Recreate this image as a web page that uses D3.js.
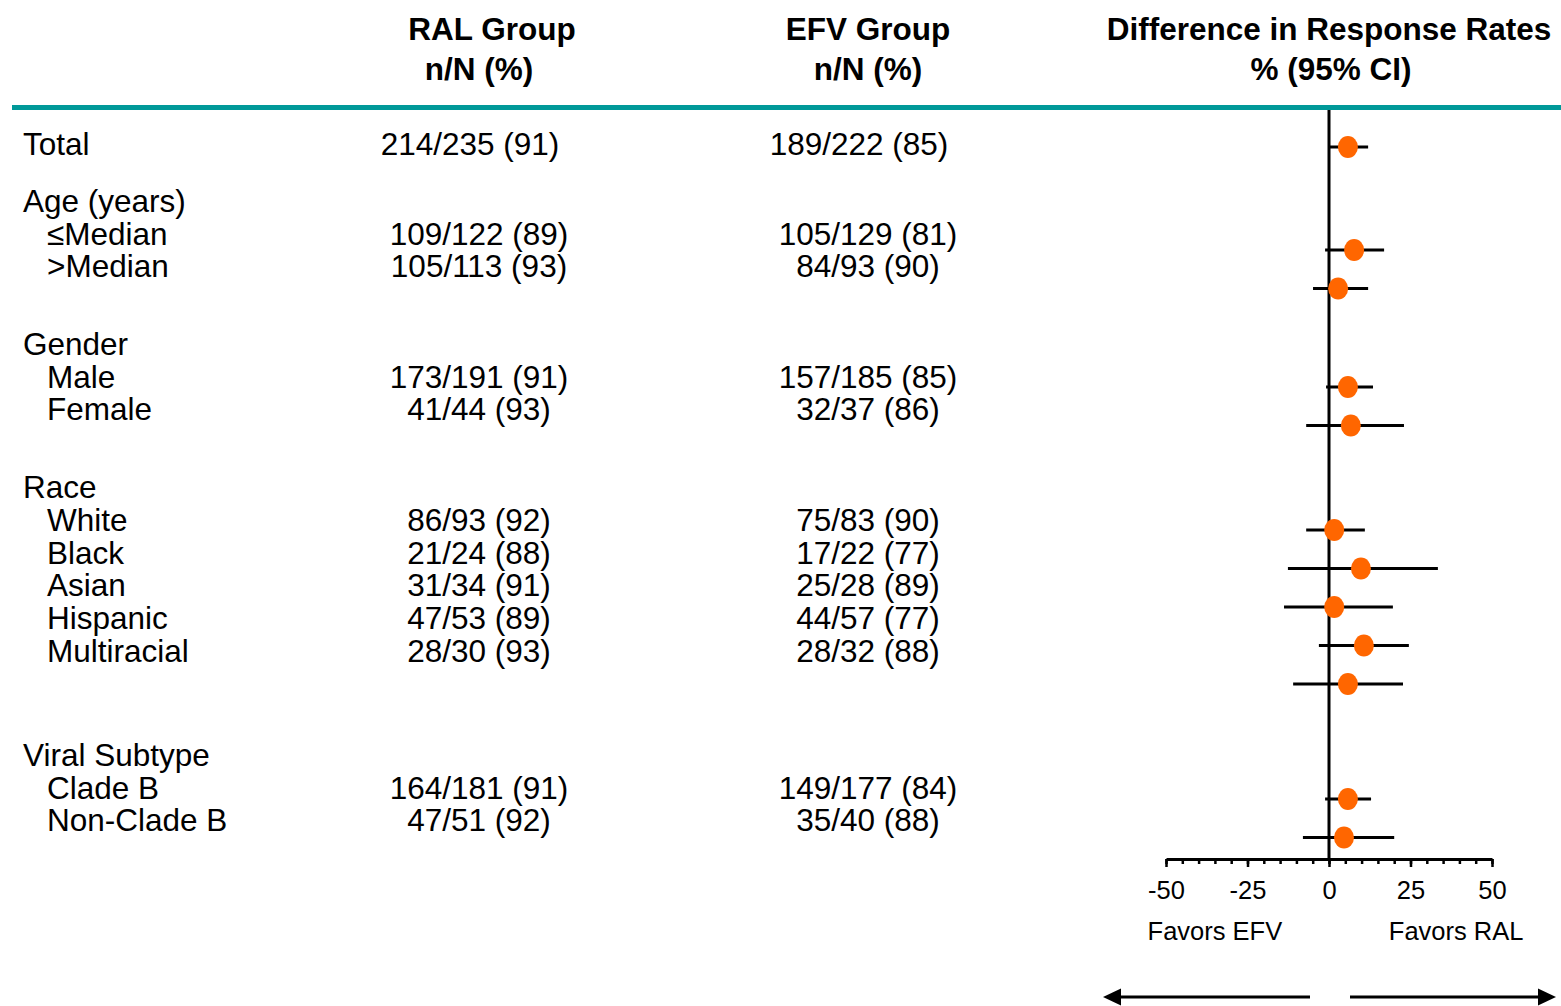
<!DOCTYPE html>
<html>
<head>
<meta charset="utf-8">
<script src="https://cdn.jsdelivr.net/npm/d3@7"></script>
<style>
  body { margin: 0; background: #fff; }
  text { font-family: "Liberation Sans", Arial, sans-serif; fill: #000; }
</style>
</head>
<body>
<div class="chart"></div>
<script>
var svgWidth = 1561;
var svgHeight = 1006;

// groups and subgroups of the table
const groupNames = ["Total", "Age (years)", "Gender", "Race", "Viral Subtype"];
const subgroups = ["Total", "\u2264Median", ">Median", "Male", "Female", "White", "Black", "Asian", "Hispanic", "Multiracial", "Clade B", "Non-Clade B"];
const subgroupGroup = [0, 1, 1, 2, 2, 3, 3, 3, 3, 3, 4, 4];

// n/N (%) per arm
const ralText = ["214/235 (91)", "109/122 (89)", "105/113 (93)", "173/191 (91)", "41/44 (93)", "86/93 (92)", "21/24 (88)", "31/34 (91)", "47/53 (89)", "28/30 (93)", "164/181 (91)", "47/51 (92)"];
const efvText = ["189/222 (85)", "105/129 (81)", "84/93 (90)", "157/185 (85)", "32/37 (86)", "75/83 (90)", "17/22 (77)", "25/28 (89)", "44/57 (77)", "28/32 (88)", "149/177 (84)", "35/40 (88)"];

// difference in response rates, % with 95% CI
const diffPct = [5.8, 7.7, 2.8, 5.8, 6.7, 1.6, 9.8, 1.6, 10.7, 5.8, 5.8, 4.6];
const ciLower = [0.3, -1.2, -4.9, -0.9, -7.0, -7.0, -12.6, -13.8, -3.1, -11.0, -1.2, -8.0];
const ciUpper = [12.0, 16.9, 12.0, 13.5, 23.0, 11.0, 33.4, 19.6, 24.5, 22.7, 12.9, 20.0];

const axisMajor = [-50, -25, 0, 25, 50];
const axisMinor = d3.range(-50, 51, 5);

// layout (px)
const fontSize = 31.5;
const textStep = 32.7;
const textGap = [0, 24.3, 44.8, 45.3, 71.3];
const dotStep = 38.5;
const dotGap = [0, 64.5, 60, 66, 76.5];

var svg = d3.select(".chart").append("svg")
  .attr("width", svgWidth)
  .attr("height", svgHeight);

// build text lines and dot slots
let textLines = [];
let dotY = [];
let ty = 155 - textStep;
let dy = 147 - dotStep;
groupNames.forEach((g, gi) => {
  ty += textStep + textGap[gi];
  if (gi > 0) {
    textLines.push({ label: g, level: 0, y: ty, row: -1 });
  }
  subgroups.forEach((s, i) => {
    if (subgroupGroup[i] !== gi) return;
    if (gi === 0) {
      textLines.push({ label: s, level: 0, y: ty, row: i });
    } else {
      ty += textStep;
      textLines.push({ label: s, level: 1, y: ty, row: i });
    }
  });
  subgroups.forEach((s, i) => {
    if (subgroupGroup[i] !== gi) return;
    if (i === 0) { dy += dotStep; dotY.push(dy); return; }
    dy += dotStep + (subgroups.findIndex((_, k) => subgroupGroup[k] === gi) === i ? dotGap[gi] : 0);
    dotY.push(dy);
  });
});

let yDot = d3.scaleLinear().domain([0, 1]).range([0, 1]); // dot slots already in px

// x scale for the forest plot
let xScale = d3.scaleLinear().domain([-50, 50]).range([1166, 1492]);

// header
const headers = [
  { lines: ["RAL Group", "n/N (%)"], x: [492, 479] },
  { lines: ["EFV Group", "n/N (%)"], x: [868, 868] },
  { lines: ["Difference in Response Rates", "% (95% CI)"], x: [1329, 1331] },
];
headers.forEach((h) => {
  h.lines.forEach((t, i) => {
    svg.append("text")
      .attr("x", h.x[i])
      .attr("y", 40 + i * 40)
      .attr("text-anchor", "middle")
      .style("font-size", fontSize + "px")
      .style("font-weight", "bold")
      .text(t);
  });
});

svg.append("line")
  .attr("x1", 12).attr("x2", svgWidth)
  .attr("y1", 107.5).attr("y2", 107.5)
  .attr("stroke", "#009999")
  .attr("stroke-width", 5);

// table text
let rows = svg.append("g");
rows.selectAll("text.label")
  .data(textLines)
  .enter()
  .append("text")
  .attr("class", "label")
  .attr("x", (d) => (d.level === 0 ? 23 : 47))
  .attr("y", (d) => d.y)
  .style("font-size", fontSize + "px")
  .text((d) => d.label);

let numRows = textLines.filter((d) => d.row >= 0);
[[ralText, 479], [efvText, 868]].forEach(([col, cx]) => {
  rows.selectAll(null)
    .data(numRows)
    .enter()
    .append("text")
    .attr("x", (d) => cx + (d.level === 0 ? -9 : 0))
    .attr("y", (d) => d.y)
    .attr("text-anchor", "middle")
    .style("font-size", fontSize + "px")
    .text((d) => col[d.row]);
});

// zero line
svg.append("line")
  .attr("x1", xScale(0)).attr("x2", xScale(0))
  .attr("y1", 110).attr("y2", 859)
  .attr("stroke", "#000")
  .attr("stroke-width", 3);

// CI lines and points
let plotData = subgroups.map((s, i) => ({ name: s, d: diffPct[i], lo: ciLower[i], hi: ciUpper[i], y: yDot(dotY[i]) }));

svg.append("g").selectAll("line")
  .data(plotData)
  .enter()
  .append("line")
  .attr("x1", (d) => xScale(d.lo))
  .attr("x2", (d) => xScale(d.hi))
  .attr("y1", (d) => d.y)
  .attr("y2", (d) => d.y)
  .attr("stroke", "#000")
  .attr("stroke-width", 3);

svg.append("g").selectAll("ellipse")
  .data(plotData)
  .enter()
  .append("ellipse")
  .attr("cx", (d) => xScale(d.d))
  .attr("cy", (d) => d.y)
  .attr("rx", 10)
  .attr("ry", 11)
  .attr("fill", "#FF6600");

// axis: minor then major ticks
let axisY = 859;
let minorAxis = d3.axisBottom(xScale).tickValues(axisMinor).tickSize(5).tickSizeOuter(0).tickFormat("");
let majorAxis = d3.axisBottom(xScale).tickValues(axisMajor).tickSize(8).tickSizeOuter(0).tickFormat(d3.format("d"));

let gMinor = svg.append("g").attr("transform", `translate(0,${axisY})`).call(minorAxis);
gMinor.select(".domain").attr("stroke-width", 3);
gMinor.selectAll(".tick line").attr("stroke-width", 2.5);

let gMajor = svg.append("g").attr("transform", `translate(0,${axisY})`).call(majorAxis);
gMajor.select(".domain").remove();
gMajor.selectAll(".tick line").attr("stroke-width", 2.5);
gMajor.selectAll(".tick text")
  .attr("y", 40)
  .attr("dy", null)
  .attr("fill", "#000")
  .style("font-family", '"Liberation Sans", Arial, sans-serif')
  .style("font-size", "25.5px")
  .text((d) => (d < 0 ? "-" + Math.abs(d) : d));

// favours labels
svg.append("text")
  .attr("x", xScale(-35))
  .attr("y", 940)
  .attr("text-anchor", "middle")
  .style("font-size", "25.5px")
  .text("Favors EFV");
svg.append("text")
  .attr("x", xScale(39))
  .attr("y", 940)
  .attr("text-anchor", "middle")
  .style("font-size", "25.5px")
  .text("Favors RAL");

// arrows
let arrowY = 997;
function arrow(x0, x1) {
  let dir = x1 > x0 ? 1 : -1;
  let headLen = 18;
  let half = 8.5;
  svg.append("line")
    .attr("x1", x0).attr("x2", x1 - dir * headLen + dir * 2)
    .attr("y1", arrowY).attr("y2", arrowY)
    .attr("stroke", "#000")
    .attr("stroke-width", 3);
  svg.append("path")
    .attr("d", `M${x1},${arrowY} L${x1 - dir * headLen},${arrowY - half} L${x1 - dir * headLen},${arrowY + half} Z`)
    .attr("fill", "#000");
}
arrow(xScale(0) - 19, xScale(-50) - 63);
arrow(xScale(0) + 21, xScale(50) + 64);
</script>
</body>
</html>
